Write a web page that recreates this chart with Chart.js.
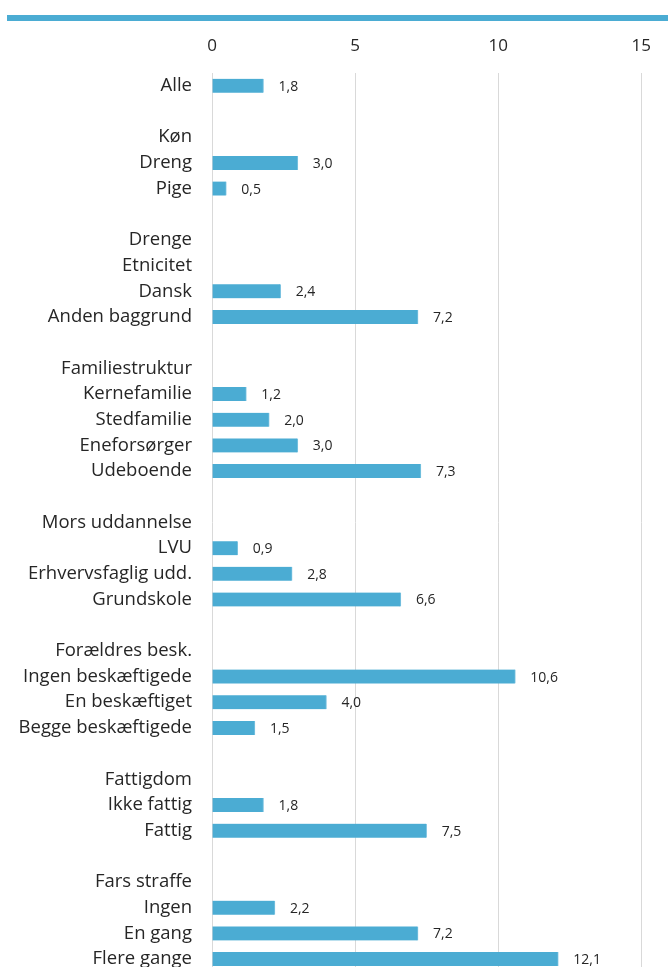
<!DOCTYPE html>
<html>
<head>
<meta charset="utf-8">
<script src="https://cdn.jsdelivr.net/npm/chart.js@4/dist/chart.umd.min.js"></script>
<style>
  html, body { margin: 0; padding: 0; background: #fff; overflow: hidden; width: 668px; height: 967px; }
  #rule { position: absolute; left: 7px; top: 15px; width: 661px; height: 6px; background: #4bacd3; }
  #wrap { position: absolute; left: 0; top: 0; width: 668px; height: 1003px; }
</style>
</head>
<body>
<div id="rule"></div>
<div id="wrap"><canvas id="c" width="668" height="1003"></canvas></div>
<script>
const categories = [
  "Alle", "",
  "Køn", "Dreng", "Pige", "",
  "Drenge", "Etnicitet", "Dansk", "Anden baggrund", "",
  "Familiestruktur", "Kernefamilie", "Stedfamilie", "Eneforsørger", "Udeboende", "",
  "Mors uddannelse", "LVU", "Erhvervsfaglig udd.", "Grundskole", "",
  "Forældres besk.", "Ingen beskæftigede", "En beskæftiget", "Begge beskæftigede", "",
  "Fattigdom", "Ikke fattig", "Fattig", "",
  "Fars straffe", "Ingen", "En gang", "Flere gange"
];
const values = [
  1.8, null,
  null, 3.0, 0.5, null,
  null, null, 2.4, 7.2, null,
  null, 1.2, 2.0, 3.0, 7.3, null,
  null, 0.9, 2.8, 6.6, null,
  null, 10.6, 4.0, 1.5, null,
  null, 1.8, 7.5, null,
  null, 2.2, 7.2, 12.1
];
const xTicks = [0, 5, 10, 15];

const FONT = "'Open Sans', 'Noto Sans', sans-serif";

const valueLabels = {
  id: 'valueLabels',
  afterDatasetsDraw(chart) {
    const ctx = chart.ctx;
    const meta = chart.getDatasetMeta(0);
    ctx.save();
    ctx.font = "14px " + FONT;
    ctx.fillStyle = "#262626";
    ctx.textAlign = "left";
    ctx.textBaseline = "middle";
    meta.data.forEach((bar, i) => {
      const v = values[i];
      if (v === null || v === undefined) return;
      const txt = v.toFixed(1).replace('.', ',');
      ctx.fillText(txt, bar.x + 15, bar.y + 1);
    });
    ctx.restore();
  }
};

new Chart(document.getElementById('c'), {
  type: 'bar',
  data: {
    labels: categories,
    datasets: [{
      data: values,
      backgroundColor: '#4bacd3',
      borderColor: '#7cc3e0',
      borderWidth: { top: 0, bottom: 0, left: 0, right: 1 },
      borderSkipped: false,
      barThickness: 14
    }]
  },
  options: {
    indexAxis: 'y',
    responsive: false,
    animation: false,
    layout: { padding: { top: 0, right: 24, bottom: 4, left: 0 } },
    plugins: { legend: { display: false }, tooltip: { enabled: false } },
    scales: {
      x: {
        position: 'top',
        min: 0, max: 15,
        afterBuildTicks(scale) { scale.ticks = xTicks.map(v => ({ value: v })); },
        afterFit(scale) { scale.height = 73; },
        grid: { color: '#d9d9d9', lineWidth: 1, drawTicks: false },
        border: { display: false },
        ticks: { padding: 17, color: '#262626', font: { family: FONT, size: 17 } }
      },
      y: {
        afterFit(scale) { scale.width = 212; },
        grid: { display: false, drawTicks: false },
        border: { display: false },
        ticks: { padding: 20, color: '#262626', font: { family: FONT, size: 18.5 }, autoSkip: false }
      }
    }
  },
  plugins: [valueLabels]
});
</script>
</body>
</html>
